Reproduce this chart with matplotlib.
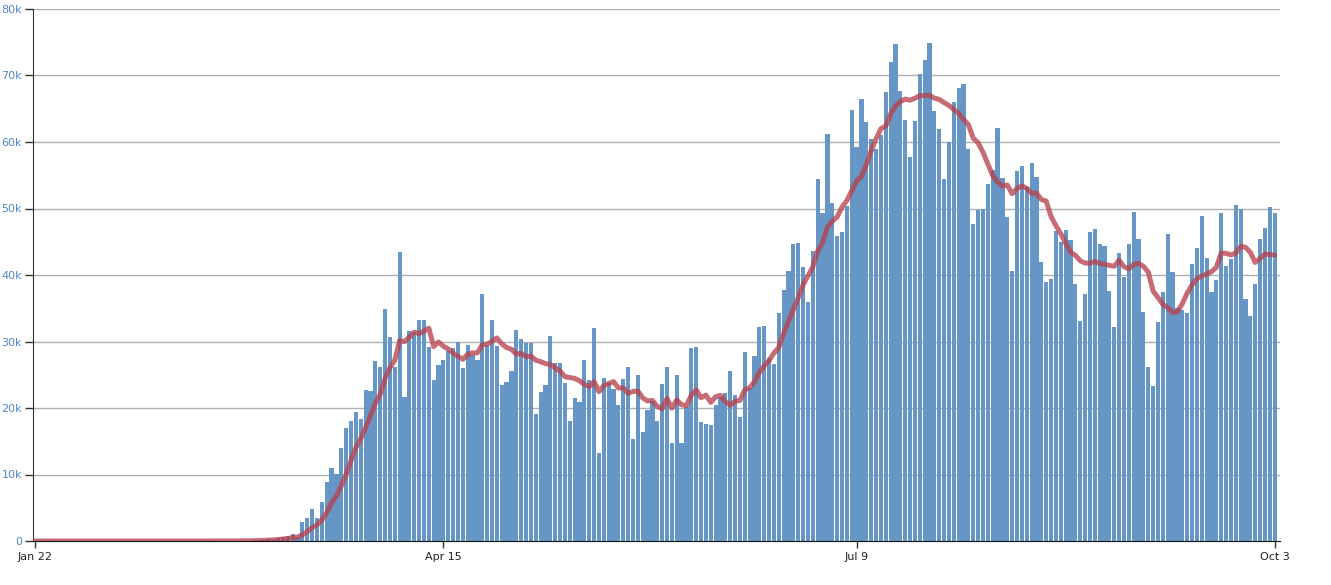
import numpy as np
import pandas as pd
import matplotlib
matplotlib.use('Agg')
import matplotlib.pyplot as plt

# daily new cases, Jan 22 - Oct 3
jan = [1, 0, 1, 0, 3, 0, 0, 0, 0, 2]
feb = [1, 0, 0, 0, 1, 0, 0, 0, 1, 0, 0, 1, 0, 0, 0, 0, 0, 0, 0, 0,
       0, 0, 0, 0, 1, 2, 3, 5, 8]
mar = [10, 20, 25, 30, 45, 60, 80, 150, 200, 250, 350, 450, 550, 700,
       1100, 600, 2800, 3500, 4800, 3500, 5800, 8800, 11000, 10100,
       14000, 17000, 18000, 19400, 18300, 22700, 22600]
apr = [27100, 26100, 34900, 30700, 26100, 43500, 21600, 31600, 31500,
       33300, 33300, 29200, 24200, 26400, 27200, 28500, 29000, 29900,
       26000, 29500, 27900, 27200, 37100, 29500, 33200, 29300, 23400,
       23900, 25500, 31800]
may = [30400, 29800, 29800, 19100, 22400, 23400, 30900, 26700, 26700,
       23800, 18100, 21500, 20900, 27200, 24200, 32000, 13300, 24500,
       23700, 22900, 20500, 24300, 26200, 15300, 25000, 16400, 19700,
       21000, 18100, 23600, 26200]
jun = [14800, 25000, 14700, 20200, 29000, 29200, 17900, 17600, 17400,
       20500, 21700, 22300, 25500, 22000, 18600, 28400, 23000, 27800,
       32200, 32400, 27500, 26600, 34300, 37700, 40600, 44600, 44800,
       41200, 36000, 43600]
jul = [54400, 49300, 61200, 50800, 45800, 46400, 50400, 64800, 59300,
       66400, 63000, 60500, 59000, 61000, 67500, 72100, 74700, 67600,
       63300, 57800, 63100, 70200, 72300, 74900, 64600, 61900, 54500,
       60000, 66000, 68100, 68700]
aug = [59000, 47600, 49800, 50000, 53700, 55800, 62100, 54600, 48700,
       40600, 55600, 56400, 53300, 56800, 54800, 42000, 39000, 39400,
       46600, 45000, 46800, 45300, 38700, 33100, 37100, 46400, 46900,
       44700, 44300, 37600, 32200]
sep = [43300, 39700, 44700, 49400, 45400, 34400, 26200, 23300, 32900,
       37400, 46100, 40400, 35000, 34700, 34300, 41600, 44000, 48900,
       42600, 37400, 39300, 49300, 41300, 42400, 50600, 49900, 36400,
       33900, 38700, 45400]
oct_ = [47100, 50200, 49300]

x_ticks = ['Jan 22', 'Apr 15', 'Jul 9', 'Oct 3']
y_ticks = [0, 10000, 20000, 30000, 40000, 50000, 60000, 70000, 80000]
y_labels = ['0', '10k', '20k', '30k', '40k', '50k', '60k', '70k', '80k']

cases = pd.Series(jan + feb + mar + apr + may + jun + jul + aug + sep + oct_,
                  index=pd.date_range('2020-01-22', '2020-10-03'))
avg = cases.rolling(7, min_periods=1).mean()
x = np.arange(len(cases))
tick_pos = [cases.index.get_loc(pd.Timestamp(d + ' 2020')) for d in x_ticks]

fig = plt.figure(figsize=(13.31, 5.85), dpi=100)
ax = fig.add_axes([33/1331, 44/585, (1280-33)/1331, 532/585])

ax.bar(x, cases.values, width=0.86, color='#6596c6', linewidth=0, zorder=2)
ax.plot(x, avg.values, color='#b8424e', alpha=0.78, lw=3.6,
        solid_capstyle='round', zorder=3)

for v in y_ticks[1:]:
    ax.axhline(v, color='#b0b0b0', lw=1, zorder=1)

ax.set_xlim(-0.42, 256.1)
ax.set_ylim(0, 80000)
ax.set_yticks(y_ticks)
ax.set_yticklabels(y_labels, color='#4f86c6', fontsize=8)
ax.set_xticks(tick_pos)
ax.set_xticklabels(x_ticks, fontsize=8, color='#222222')
ax.tick_params(axis='y', length=6, width=1, color='#333333', pad=2)
ax.tick_params(axis='x', length=5, width=1, color='#333333', pad=3)

for s in ['top', 'right']:
    ax.spines[s].set_visible(False)
ax.spines['left'].set_color('#333333')
ax.spines['bottom'].set_color('#111111')

fig.savefig('out.png', dpi=100)
